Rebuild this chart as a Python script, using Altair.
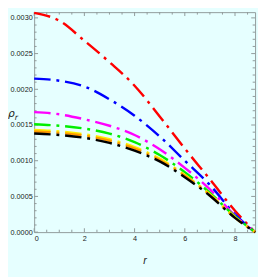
import altair as alt
import pandas as pd

r_vals = [0, 1, 2, 3, 4, 5, 6, 7, 8, 8.8]
red = [0.00307, 0.00296, 0.00268, 0.00238, 0.00205, 0.00162, 0.00117, 0.00074, 0.00030, 0.0]
blue = [0.00215, 0.00212, 0.00204, 0.00186, 0.00163, 0.00134, 0.00100, 0.00066, 0.00025, 0.0]
magenta = [0.00168, 0.00165, 0.00158, 0.00149, 0.00136, 0.00116, 0.00090, 0.00060, 0.00023, 0.0]
green = [0.00151, 0.00149, 0.00145, 0.00138, 0.00126, 0.00108, 0.00084, 0.00055, 0.00022, 0.0]
yellow = [0.00143, 0.00141, 0.00137, 0.00130, 0.00119, 0.00103, 0.00080, 0.00053, 0.00021, 0.0]
orange = [0.00141, 0.00139, 0.00135, 0.00128, 0.00117, 0.00101, 0.00079, 0.00052, 0.00020, 0.0]
black = [0.00138, 0.00136, 0.00132, 0.00125, 0.00114, 0.00099, 0.00077, 0.00051, 0.00020, 0.0]

series = [("red", red, "#ff0000"), ("blue", blue, "#0000ff"), ("magenta", magenta, "#ff00ff"),
          ("green", green, "#00ee00"), ("yellow", yellow, "#ffee00"), ("orange", orange, "#ff9900"),
          ("black", black, "#000000")]

x_major = [0, 2, 4, 6, 8]
x_minor = [0.5, 1, 1.5, 2.5, 3, 3.5, 4.5, 5, 5.5, 6.5, 7, 7.5, 8.5]
y_major = [0.0, 0.0005, 0.0010, 0.0015, 0.0020, 0.0025, 0.0030]
y_minor = [0.0001, 0.0002, 0.0003, 0.0004, 0.0006, 0.0007, 0.0008, 0.0009,
           0.0011, 0.0012, 0.0013, 0.0014, 0.0016, 0.0017, 0.0018, 0.0019,
           0.0021, 0.0022, 0.0023, 0.0024, 0.0026, 0.0027, 0.0028, 0.0029]

y_title_main = "ρ"
y_title_sub = "r"

W, H = 228, 227
FRAME = "#8f9a9a"
BG = "#e6ffff"
FONT = "Liberation Sans"

xs = alt.Scale(domain=[0, 8.8], nice=False, zero=False)
ys = alt.Scale(domain=[0, 0.00308], nice=False, zero=False)

X = alt.X("r:Q", scale=xs, title="r",
          axis=alt.Axis(values=x_major, ticks=False, domain=False, grid=False,
                        labelPadding=3, labelFont=FONT, labelFontSize=7.5, labelColor="#222",
                        titleFont=FONT, titleFontSize=11, titleFontStyle="italic",
                        titleFontWeight="normal", titleColor="#222", titlePadding=13))
Y = alt.Y("rho:Q", scale=ys, title=None,
          axis=alt.Axis(values=y_major, format=".4f", ticks=False, domain=False, grid=False,
                        labelPadding=2, labelFont=FONT, labelFontSize=7.5, labelColor="#222"))

layers = []
for name, vals, col in series:
    df = pd.DataFrame({"r": r_vals, "rho": vals})
    layers.append(alt.Chart(df).mark_line(interpolate="monotone", strokeWidth=2.5,
                                          strokeDash=[17, 6, 3, 6], color=col).encode(x=X, y=Y))

def xt(vals, size):
    d = pd.DataFrame({"r": vals})
    b = alt.Chart(d).mark_rule(color=FRAME, strokeWidth=1).encode(x=X, y=alt.value(H), y2=alt.value(H - size))
    t = alt.Chart(d).mark_rule(color=FRAME, strokeWidth=1).encode(x=X, y=alt.value(0), y2=alt.value(size))
    return [b, t]

def yt(vals, size):
    d = pd.DataFrame({"rho": vals})
    l = alt.Chart(d).mark_rule(color=FRAME, strokeWidth=1).encode(y=Y, x=alt.value(0), x2=alt.value(size))
    rr = alt.Chart(d).mark_rule(color=FRAME, strokeWidth=1).encode(y=Y, x=alt.value(W), x2=alt.value(W - size))
    return [l, rr]

ticks = xt(x_major, 4) + xt(x_minor, 2.5) + yt(y_major, 4) + yt(y_minor, 2.5)

title_df = pd.DataFrame({"t": [y_title_main]})
sub_df = pd.DataFrame({"t": [y_title_sub]})
ytitle = alt.Chart(title_df).mark_text(font="DejaVu Sans", fontSize=11, fontStyle="italic",
                                       align="left", baseline="middle", color="#222").encode(
    text="t:N", x=alt.value(-27), y=alt.value(105))
ysub = alt.Chart(sub_df).mark_text(font="DejaVu Sans", fontSize=8, fontStyle="italic",
                                   align="left", baseline="middle", color="#222").encode(
    text="t:N", x=alt.value(-20), y=alt.value(109))

chart = alt.layer(*ticks, *layers, ytitle, ysub).properties(
    width=W, height=H,
    autosize=alt.AutoSizeParams(type="none"),
    padding={"left": 27, "top": 0, "right": 3, "bottom": 42},
    background=BG,
).configure_view(stroke=FRAME, strokeWidth=1, fill=BG)

chart.save("out.html", embed_options={"renderer": "svg", "actions": False})
